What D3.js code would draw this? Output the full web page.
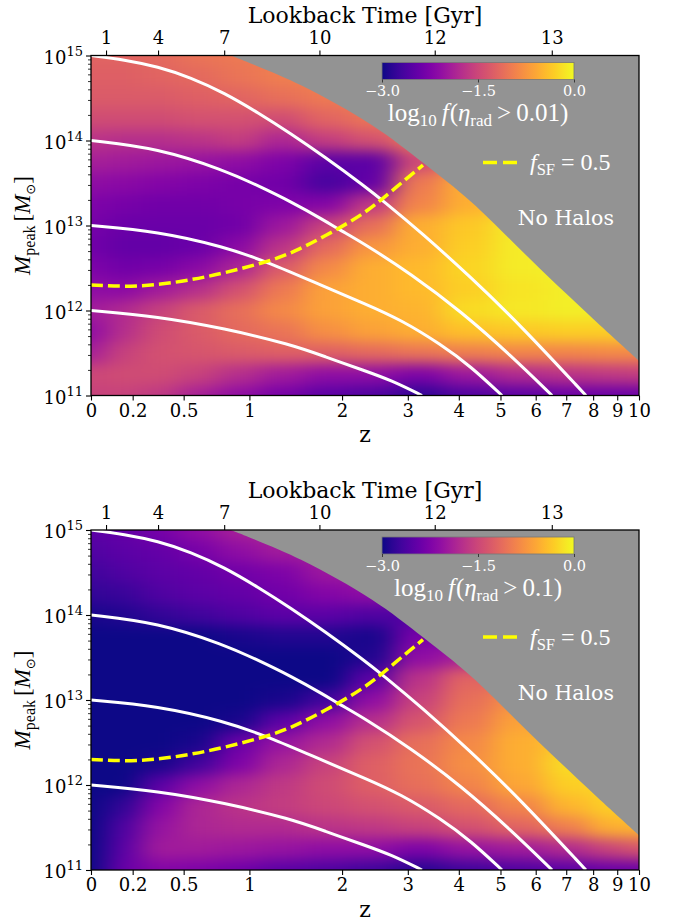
<!DOCTYPE html>
<html>
<head>
<meta charset="utf-8">
<script src="https://cdn.jsdelivr.net/npm/d3@7"></script>
<style>
  body { margin: 0; background: #fff; }
  svg { display: block; }
  svg text { font-family: "DejaVu Serif", serif; }
</style>
</head>
<body>
<script>
// sample grid of the colour map: redshift columns, log10 mass rows
var zGrid = [0, 0.15, 0.35, 0.6, 0.9, 1.3, 1.8, 2.4, 3.2, 4.2, 5.5, 7.2, 8.5, 10];
var mGrid = [15, 14.75, 14.5, 14.25, 14, 13.75, 13.5, 13.25, 13, 12.75, 12.5, 12.25, 12, 11.75, 11.5, 11.25, 11];

// log10 f(eta_rad > 0.01)
var fracTop = [
  [-1.2, -1.2, -1.15, -1.05, -1.0, -0.95, -0.95, -0.95, -0.95, -0.95, -0.95, -0.95, -0.95, -0.95],
  [-1.25, -1.25, -1.2, -1.15, -1.05, -0.95, -0.9, -0.9, -0.9, -0.9, -0.9, -0.9, -0.9, -0.9],
  [-1.3, -1.3, -1.3, -1.25, -1.2, -1.1, -1.0, -0.95, -0.95, -0.95, -0.95, -0.95, -0.95, -0.95],
  [-1.45, -1.45, -1.45, -1.4, -1.4, -1.45, -1.2, -1.05, -1.0, -1.0, -1.0, -1.0, -1.0, -1.0],
  [-1.7, -1.75, -1.75, -1.7, -1.6, -1.85, -1.6, -1.4, -1.0, -0.9, -0.9, -0.9, -0.9, -0.9],
  [-1.9, -1.95, -2.0, -2.05, -2.1, -2.25, -2.5, -2.5, -1.5, -0.9, -0.8, -0.8, -0.8, -0.8],
  [-2.1, -2.15, -2.2, -2.25, -2.3, -2.35, -2.65, -2.45, -1.0, -0.55, -0.4, -0.3, -0.3, -0.3],
  [-2.25, -2.3, -2.35, -2.35, -2.3, -2.25, -2.2, -1.65, -0.9, -0.55, -0.35, -0.3, -0.3, -0.3],
  [-2.3, -2.4, -2.4, -2.4, -2.35, -2.0, -1.55, -1.1, -0.55, -0.35, -0.1, -0.05, -0.05, -0.05],
  [-2.35, -2.45, -2.45, -2.4, -2.15, -1.7, -1.15, -0.75, -0.55, -0.3, -0.1, -0.05, -0.05, -0.05],
  [-2.25, -2.35, -2.3, -2.15, -1.85, -1.3, -0.85, -0.55, -0.45, -0.25, -0.1, -0.05, -0.05, -0.05],
  [-2.1, -2.15, -1.95, -1.75, -1.4, -1.0, -0.65, -0.55, -0.45, -0.3, -0.15, -0.08, -0.05, -0.05],
  [-1.95, -1.8, -1.55, -1.3, -1.1, -0.85, -0.65, -0.55, -0.5, -0.2, -0.12, -0.08, -0.08, -0.08],
  [-2.1, -1.75, -1.45, -1.3, -1.15, -1.05, -0.8, -0.65, -0.55, -0.4, -0.35, -0.3, -0.3, -0.3],
  [-1.9, -1.55, -1.4, -1.35, -1.3, -1.25, -1.25, -1.15, -1.05, -0.95, -0.9, -0.9, -0.85, -0.85],
  [-1.5, -1.45, -1.45, -1.55, -1.75, -1.95, -2.1, -2.1, -2.25, -2.0, -1.8, -1.7, -1.65, -1.6],
  [-1.55, -1.55, -1.65, -1.9, -2.1, -2.3, -2.5, -2.6, -2.8, -2.6, -2.5, -2.4, -2.4, -2.4]
];

// log10 f(eta_rad > 0.1)
var fracBottom = [
  [-2.5, -2.45, -2.3, -2.1, -1.9, -1.8, -1.8, -1.8, -1.8, -1.8, -1.8, -1.8, -1.8, -1.8],
  [-2.6, -2.5, -2.45, -2.3, -2.1, -1.95, -1.9, -1.9, -1.9, -1.9, -1.9, -1.9, -1.9, -1.9],
  [-2.7, -2.6, -2.5, -2.45, -2.35, -2.25, -2.0, -1.95, -1.95, -1.95, -1.95, -1.95, -1.95, -1.95],
  [-2.8, -2.75, -2.6, -2.5, -2.45, -2.35, -2.2, -2.1, -2.1, -2.1, -2.1, -2.1, -2.1, -2.1],
  [-2.95, -2.9, -2.8, -2.7, -2.6, -2.5, -2.5, -2.6, -2.6, -2.5, -2.5, -2.5, -2.5, -2.5],
  [-3, -3, -3, -3, -2.95, -2.9, -2.9, -2.95, -2.3, -2.2, -2.2, -2.2, -2.2, -2.2],
  [-3, -3, -3, -3, -3, -3, -3, -2.9, -2.1, -1.9, -1.9, -1.9, -1.9, -1.9],
  [-3, -3, -3, -3, -3, -3, -3, -2.5, -1.7, -1.2, -1.2, -1.2, -1.2, -1.2],
  [-3, -3, -3, -3, -3, -2.95, -2.7, -2.1, -1.55, -1.1, -0.8, -0.8, -0.8, -0.8],
  [-3, -3, -3, -3, -2.95, -2.5, -2.1, -1.75, -1.35, -1.0, -0.65, -0.6, -0.6, -0.6],
  [-3, -3, -3, -2.95, -2.4, -2.05, -1.8, -1.4, -1.1, -0.85, -0.55, -0.35, -0.35, -0.35],
  [-3, -3, -2.95, -2.7, -2.25, -1.85, -1.55, -1.25, -1.05, -0.8, -0.55, -0.2, -0.2, -0.2],
  [-3, -3, -2.5, -2.1, -1.85, -1.65, -1.45, -1.25, -1.1, -0.9, -0.6, -0.3, -0.25, -0.25],
  [-3, -2.8, -2.2, -1.85, -1.7, -1.6, -1.5, -1.4, -1.3, -1.15, -0.9, -0.5, -0.3, -0.3],
  [-3, -2.6, -2.05, -1.85, -1.8, -1.8, -1.7, -1.65, -1.55, -1.4, -1.2, -0.95, -0.55, -0.5],
  [-3, -2.5, -1.95, -1.95, -2.0, -2.05, -2.1, -2.1, -2.25, -2.05, -1.95, -1.8, -1.55, -1.35],
  [-3, -2.4, -2.2, -2.25, -2.35, -2.5, -2.6, -2.7, -2.85, -2.7, -2.6, -2.5, -2.4, -2.4]
];

// halo growth tracks [z, log10 Mpeak]
var track15 = [[0, 15], [0.157, 14.95], [0.339, 14.87], [0.549, 14.74], [0.792, 14.56], [1.074, 14.33],
  [1.399, 14.08], [1.776, 13.81], [2.316, 13.46], [2.573, 13.3], [3.238, 12.92], [4.274, 12.39], [5.564, 11.82], [7.72, 11.0]];
var track14 = [[0, 14], [0.339, 13.91], [0.792, 13.65], [1.074, 13.47], [1.399, 13.28], [1.776, 13.06],
  [1.966, 12.95], [2.316, 12.78], [3.056, 12.43], [4.048, 11.99], [5.283, 11.47], [6.52, 11.0]];
var track13 = [[0, 13], [0.339, 12.93], [0.792, 12.75], [1.167, 12.57], [1.776, 12.28], [2.316, 12.08],
  [2.883, 11.89], [3.625, 11.6], [4.274, 11.34], [5.04, 11.0]];
var track12 = [[0, 12], [0.339, 11.93], [0.792, 11.79], [1.399, 11.6], [1.776, 11.46], [2.316, 11.29],
  [2.716, 11.18], [3.256, 11.0]];
var tracks = [track15, track14, track13, track12];

// f_SF = 0.5 line
var fsfLine = [[0, 12.3], [0.157, 12.28], [0.339, 12.3], [0.549, 12.36], [0.792, 12.44], [1.15, 12.57],
  [1.399, 12.67], [1.776, 12.87], [2.316, 13.14], [2.716, 13.4], [3.274, 13.71]];

// upper edge of the halo population ("No Halos" above it)
var haloEdge = [[0.845, 15.0], [1.507, 14.65], [2.42, 14.18], [3.294, 13.73], [4.274, 13.28],
  [6.165, 12.48], [8.154, 11.86], [10, 11.41]];

var zTicks = [0, 0.2, 0.5, 1, 2, 3, 4, 5, 6, 7, 8, 9, 10];
var zTickLabels = ["0", "0.2", "0.5", "1", "2", "3", "4", "5", "6", "7", "8", "9", "10"];
var lookbackTicks = [1, 4, 7, 10, 12, 13];
var lookbackZ = [0.068, 0.341, 0.791, 1.717, 3.5, 6.51];
var massTicks = [11, 12, 13, 14, 15];
var cbTicks = [-3, -1.5, 0];
var cbTickLabels = ["\u22123.0", "\u22121.5", "0.0"];
var thresholds = ["0.01", "0.1"];

var W = 676, H = 922;
var x0 = 91, x1 = 639, panelH = 340;
var panelTops = [55.5, 530];
var mathFont = "'Liberation Serif', serif";

var svg = d3.select("body").append("svg").attr("width", W).attr("height", H);
var defs = svg.append("defs");

var filt = defs.append("filter").attr("id", "smooth")
    .attr("x", "-10%").attr("y", "-10%").attr("width", "120%").attr("height", "120%")
    .attr("color-interpolation-filters", "sRGB");
filt.append("feGaussianBlur").attr("stdDeviation", "13 7");

var x = d3.scaleLog().domain([1, 11]).range([x0, x1]);
function xz(z) { return x(1 + z); }
var y = d3.scaleLinear().domain([11, 15]).range([panelH, 0]);
var color = d3.scaleSequential(d3.interpolatePlasma).domain([-3, 0]).clamp(true);

var minorTicks = [];
for (var n = 11; n < 15; n++) {
  for (var k = 2; k <= 9; k++) minorTicks.push(n + Math.log10(k));
}

function cellEdges(c, lo, hi) {
  var e = [lo];
  for (var i = 0; i < c.length - 1; i++) e.push((c[i] + c[i + 1]) / 2);
  e.push(hi);
  return e;
}

function styleAxis(ax) {
  ax.attr("font-family", null).attr("font-size", null);
  ax.select(".domain").remove();
  ax.selectAll(".tick line").attr("stroke", "#000").attr("stroke-width", 1.1);
  ax.selectAll(".tick text").attr("fill", "#000").style("font-size", "18px");
}

function drawPanel(idx) {
  var values = idx === 0 ? fracTop : fracBottom;
  var g = svg.append("g").attr("transform", "translate(0," + panelTops[idx] + ")");

  // clip paths
  var edgePath = d3.line().x(function(d) { return xz(d[0]); }).y(function(d) { return y(d[1]); })
      .curve(d3.curveCatmullRom)(haloEdge);
  var clipD = "M" + x0 + "," + panelH + "L" + x0 + ",0L" + edgePath.slice(1) + "L" + x1 + "," + panelH + "Z";
  defs.append("clipPath").attr("id", "halo" + idx).append("path").attr("d", clipD);
  defs.append("clipPath").attr("id", "plot" + idx).append("rect")
      .attr("x", x0).attr("y", 0).attr("width", x1 - x0).attr("height", panelH);

  // "No Halos" background
  g.append("rect").attr("x", x0).attr("y", 0).attr("width", x1 - x0).attr("height", panelH)
      .attr("fill", "#939393");

  // heat map
  var ex = cellEdges(zGrid.map(xz), x0 - 40, x1 + 40);
  var ey = cellEdges(mGrid.map(y), -30, panelH + 30);
  var cells = [];
  values.forEach(function(row, i) {
    row.forEach(function(v, j) { cells.push({i: i, j: j, v: v}); });
  });
  g.append("g").attr("clip-path", "url(#halo" + idx + ")")
    .append("g").attr("filter", "url(#smooth)")
    .selectAll("rect").data(cells).join("rect")
      .attr("x", function(d) { return ex[d.j]; })
      .attr("y", function(d) { return ey[d.i]; })
      .attr("width", function(d) { return ex[d.j + 1] - ex[d.j] + 0.6; })
      .attr("height", function(d) { return ey[d.i + 1] - ey[d.i] + 0.6; })
      .attr("fill", function(d) { return color(d.v); });

  // tracks and f_SF line
  var line = d3.line().x(function(d) { return xz(d[0]); }).y(function(d) { return y(d[1]); })
      .curve(d3.curveBasis);
  var lines = g.append("g").attr("clip-path", "url(#plot" + idx + ")");
  lines.selectAll(".track").data(tracks).join("path")
      .attr("class", "track")
      .attr("d", line)
      .attr("fill", "none").attr("stroke", "#fff").attr("stroke-width", 3);
  lines.append("path").datum(fsfLine)
      .attr("d", line)
      .attr("fill", "none").attr("stroke", "#ffff00").attr("stroke-width", 3.5)
      .attr("stroke-dasharray", "12 5");

  // colour bar
  var cbX0 = 382, cbX1 = 574, cbY = 7, cbH = 17;
  var gradId = "cbgrad" + idx;
  var grad = defs.append("linearGradient").attr("id", gradId);
  d3.range(0, 1.0001, 0.05).forEach(function(t) {
    grad.append("stop").attr("offset", t).attr("stop-color", d3.interpolatePlasma(t));
  });
  g.append("rect").attr("x", cbX0).attr("y", cbY).attr("width", cbX1 - cbX0).attr("height", cbH)
      .attr("fill", "url(#" + gradId + ")").attr("stroke", "#777").attr("stroke-width", 0.8);
  var cbScale = d3.scaleLinear().domain([-3, 0]).range([cbX0, cbX1]);
  var cbAxis = g.append("g").attr("transform", "translate(0," + (cbY + cbH) + ")")
      .call(d3.axisBottom(cbScale).tickValues(cbTicks)
        .tickFormat(function(d, i) { return cbTickLabels[i]; })
        .tickSize(3).tickPadding(3.5).tickSizeOuter(0));
  styleAxis(cbAxis);
  cbAxis.selectAll(".tick line").attr("stroke", "#222").attr("stroke-width", 0.8);
  cbAxis.selectAll(".tick text").attr("fill", "#fff").style("font-size", "14.5px");

  var cbLabel = g.append("text").attr("x", (cbX0 + cbX1) / 2).attr("y", 65.5)
      .attr("text-anchor", "middle").attr("fill", "#fff")
      .style("font-family", mathFont).style("font-size", "25px");
  cbLabel.append("tspan").text("log");
  cbLabel.append("tspan").attr("dy", 5).style("font-size", "17px").text("10");
  cbLabel.append("tspan").attr("dy", -5).attr("dx", 5).style("font-style", "italic").text("f");
  cbLabel.append("tspan").attr("dx", 1).text("(");
  cbLabel.append("tspan").style("font-style", "italic").text("\u03b7");
  cbLabel.append("tspan").attr("dy", 5).style("font-size", "17px").text("rad");
  cbLabel.append("tspan").attr("dy", -5).attr("dx", 5).text(">");
  cbLabel.append("tspan").attr("dx", 5).text(thresholds[idx] + ")");

  // legend
  g.append("line").attr("x1", 483).attr("x2", 522).attr("y1", 107).attr("y2", 107)
      .attr("stroke", "#ffff00").attr("stroke-width", 3.5).attr("stroke-dasharray", "14 6");
  var leg = g.append("text").attr("x", 530).attr("y", 114.5).attr("fill", "#fff")
      .style("font-family", mathFont).style("font-size", "24px");
  leg.append("tspan").style("font-style", "italic").text("f");
  leg.append("tspan").attr("dy", 5).style("font-size", "16.5px").text("SF");
  leg.append("tspan").attr("dy", -5).attr("dx", 6).text("=");
  leg.append("tspan").attr("dx", 6).text("0.5");

  g.append("text").attr("x", 614).attr("y", 169.5).attr("text-anchor", "end")
      .attr("fill", "#fff").style("font-size", "20.5px").text("No Halos");

  // axes
  var bottom = g.append("g").attr("transform", "translate(0," + panelH + ")")
      .call(d3.axisBottom(x).tickValues(zTicks.map(function(z) { return 1 + z; }))
        .tickFormat(function(d, i) { return zTickLabels[i]; })
        .tickSize(5).tickPadding(3.5).tickSizeOuter(0));
  styleAxis(bottom);

  var top = g.append("g")
      .call(d3.axisTop(x).tickValues(lookbackZ.map(function(z) { return 1 + z; }))
        .tickFormat(function(d, i) { return lookbackTicks[i]; })
        .tickSize(5).tickPadding(6.5).tickSizeOuter(0));
  styleAxis(top);

  var left = g.append("g").attr("transform", "translate(" + x0 + ",0)")
      .call(d3.axisLeft(y).tickValues(massTicks).tickFormat(function() { return "10"; })
        .tickSize(5).tickPadding(3).tickSizeOuter(0));
  styleAxis(left);
  left.selectAll(".tick text").attr("dy", "0.42em")
    .append("tspan").attr("dy", -8).style("font-size", "13px").text(function(d) { return d; });

  var minor = g.append("g").attr("transform", "translate(" + x0 + ",0)")
      .call(d3.axisLeft(y).tickValues(minorTicks).tickFormat("").tickSize(3).tickSizeOuter(0));
  styleAxis(minor);
  minor.selectAll(".tick line").attr("stroke-width", 0.8);

  g.append("rect").attr("x", x0).attr("y", 0).attr("width", x1 - x0).attr("height", panelH)
      .attr("fill", "none").attr("stroke", "#000").attr("stroke-width", 1.3);

  // axis titles
  g.append("text").attr("x", (x0 + x1) / 2).attr("y", -32.5).attr("text-anchor", "middle")
      .style("font-size", "22px").text("Lookback Time [Gyr]");
  g.append("text").attr("x", (x0 + x1) / 2).attr("y", panelH + 46.5).attr("text-anchor", "middle")
      .style("font-size", "22px").text("z");

  var yl = g.append("text").attr("transform", "translate(30," + panelH / 2 + ")rotate(-90)")
      .attr("text-anchor", "middle")
      .style("font-family", mathFont).style("font-size", "23px");
  yl.append("tspan").style("font-style", "italic").text("M");
  yl.append("tspan").attr("dy", 5).style("font-size", "16px").text("peak");
  yl.append("tspan").attr("dy", -5).attr("dx", 4).text("[");
  yl.append("tspan").style("font-style", "italic").text("M");
  yl.append("tspan").attr("dy", 5).style("font-size", "13px").style("font-family", "'DejaVu Sans'").text("\u2299");
  yl.append("tspan").attr("dy", -5).text("]");
}

drawPanel(0);
drawPanel(1);
</script>
</body>
</html>
